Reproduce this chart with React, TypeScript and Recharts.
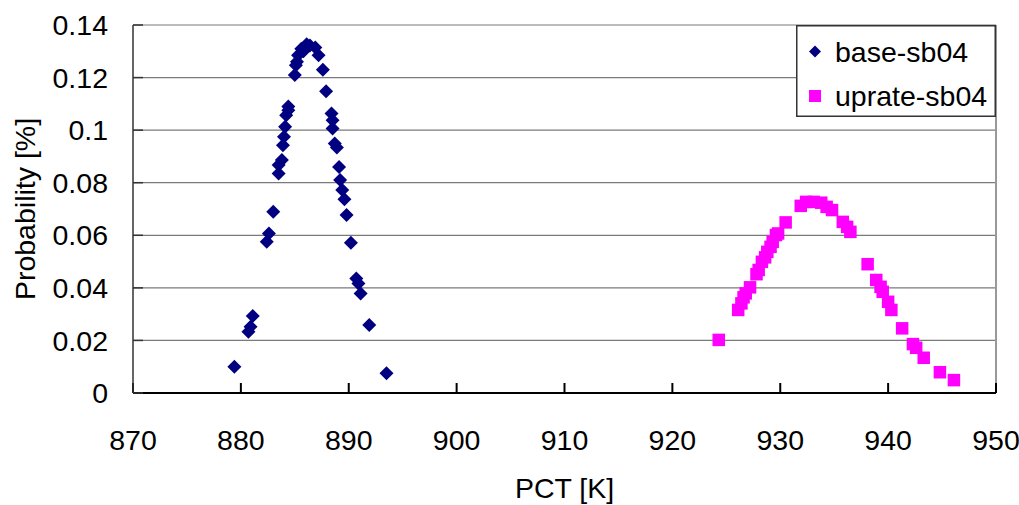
import { ScatterChart, Scatter, XAxis, YAxis, CartesianGrid, Legend, ReferenceLine } from "recharts"

const baseX = [
  879.4, 880.7, 880.9, 881.1, 882.4, 882.6, 883.0, 883.5, 883.5, 883.8, 883.9, 884.0, 884.1, 884.2,
  884.4, 884.4, 885.0, 885.1, 885.2, 885.3, 885.6, 885.8, 886.1, 886.4, 886.9, 887.2, 887.6, 887.9,
  888.4, 888.5, 888.5, 888.7, 888.9, 889.1, 889.2, 889.4, 889.6, 889.8, 890.2, 890.7, 890.9, 891.1,
  891.9, 893.5,
]
const baseY = [
  0.01, 0.0233, 0.0252, 0.0293, 0.0575, 0.0607, 0.069, 0.0835, 0.0867, 0.0886, 0.0943, 0.0975, 0.1013, 0.1057,
  0.1076, 0.109, 0.121, 0.1247, 0.126, 0.1285, 0.131, 0.13, 0.1327, 0.1322, 0.1314, 0.1285, 0.123, 0.1148,
  0.1063, 0.1038, 0.1006, 0.0949, 0.0934, 0.086, 0.081, 0.0772, 0.0737, 0.0677, 0.0572, 0.0436, 0.0417, 0.0379,
  0.0259, 0.0075,
]

const uprateX = [
  924.3, 926.1, 926.4, 926.6, 926.8, 927.2, 927.8, 928.0, 928.3, 928.6, 928.8, 929.1, 929.3, 929.6,
  929.8, 930.5, 931.9, 932.4, 933.1, 933.8, 934.3, 934.8, 935.8, 936.2, 936.5, 938.1, 938.9, 939.3,
  939.5, 940.0, 940.3, 941.3, 942.3, 942.6, 943.3, 944.8, 946.1,
]
const uprateY = [
  0.0202, 0.0316, 0.0341, 0.0364, 0.0379, 0.0402, 0.0452, 0.0468, 0.0499, 0.0516, 0.0537, 0.0556, 0.0575, 0.0601,
  0.0607, 0.0649, 0.0712, 0.0727, 0.0727, 0.0724, 0.0708, 0.0696, 0.0651, 0.0632, 0.0613, 0.049, 0.043, 0.0404,
  0.0385, 0.0347, 0.0316, 0.0246, 0.0186, 0.0172, 0.0134, 0.0079, 0.0049,
]

const xTicks = [870, 880, 890, 900, 910, 920, 930, 940, 950]
const yTicks = [0, 0.02, 0.04, 0.06, 0.08, 0.1, 0.12, 0.14]

const seriesNames = ["base-sb04", "uprate-sb04"]
const colors = ["#000080", "#ff00ff"]

const baseData = baseX.map((x, i) => ({ x, y: baseY[i] }))
const uprateData = uprateX.map((x, i) => ({ x, y: uprateY[i] }))

const font = "'Liberation Sans', Arial, sans-serif"
const fontSize = 28.5

function Diamond(props: any) {
  const { cx, cy } = props
  const r = 7
  return <polygon points={`${cx},${cy - r} ${cx + r},${cy} ${cx},${cy + r} ${cx - r},${cy}`} fill={colors[0]} />
}

function Square(props: any) {
  const { cx, cy } = props
  return <rect x={cx - 6.25} y={cy - 6.25} width={12.5} height={12.5} fill={colors[1]} />
}

function LegendBox() {
  return (
    <svg width={200} height={92} style={{ display: "block" }}>
      <rect x={0.75} y={0.75} width={198.5} height={90.5} fill="#fff" stroke="#333" strokeWidth={1.5} />
      <polygon points="19,20.5 25,26.5 19,32.5 13,26.5" fill={colors[0]} />
      <text x={39} y={37} fontSize={fontSize} fontFamily={font} fill="#000">{seriesNames[0]}</text>
      <rect x={13} y={65} width={12} height={12} fill={colors[1]} />
      <text x={39} y={81} fontSize={fontSize} fontFamily={font} fill="#000">{seriesNames[1]}</text>
    </svg>
  )
}

export default function App() {
  const tick = { fontSize, fontFamily: font, fill: "#000" }
  return (
    <div style={{ position: "absolute", left: 0, top: 0, width: 1019, height: 505, background: "#fff" }}>
      <ScatterChart width={1019} height={505} margin={{ top: 25, right: 23, bottom: 0, left: 0 }}>
        <CartesianGrid vertical={false} stroke="#7a7a7a" strokeWidth={1.2} />
        <XAxis
          type="number"
          dataKey="x"
          domain={[870, 950]}
          ticks={xTicks}
          allowDataOverflow
          height={112}
          tick={tick}
          tickSize={-10}
          tickMargin={47}
          stroke="#000"
          strokeWidth={2}
          label={{ value: "PCT [K]", position: "insideBottom", offset: 7, style: { fontSize, fontFamily: font, fill: "#000" } }}
        />
        <YAxis
          type="number"
          dataKey="y"
          domain={[0, 0.14]}
          ticks={yTicks}
          allowDataOverflow
          width={133}
          tick={tick}
          tickSize={-10}
          tickMargin={35}
          stroke="#333"
          strokeWidth={1.5}
          label={{ value: "Probability [%]", angle: -90, position: "center", dx: -42, style: { fontSize, fontFamily: font, fill: "#000" } }}
        />
        <ReferenceLine x={950} stroke="#999" strokeWidth={2} />
        <Legend
          layout="horizontal"
          verticalAlign="middle"
          align="center"
          wrapperStyle={{ position: "absolute", left: 796, top: 25, width: 200, height: 92 }}
          content={() => <LegendBox />}
        />
        <Scatter name={seriesNames[0]} data={baseData} shape={<Diamond />} isAnimationActive={false} />
        <Scatter name={seriesNames[1]} data={uprateData} shape={<Square />} isAnimationActive={false} />
      </ScatterChart>
    </div>
  )
}
